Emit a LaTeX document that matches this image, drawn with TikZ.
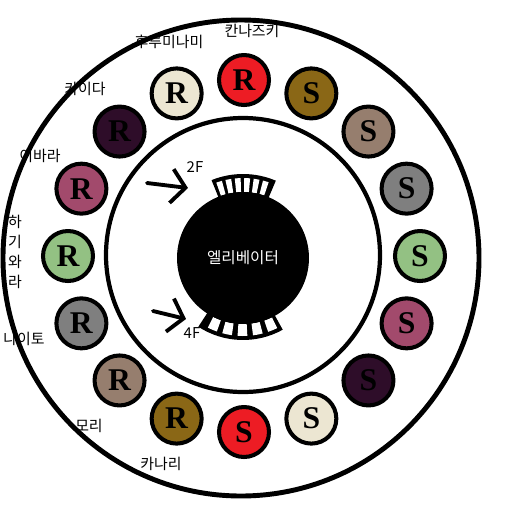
\documentclass[tikz,border=0pt]{standalone}
\usepackage{fontspec}
\setmainfont{Liberation Serif}
\newfontfamily\krfont{Noto Sans CJK KR}
\usetikzlibrary{arrows.meta}
\definecolor{coinRed}{HTML}{ED1C24}
\definecolor{coinCream}{HTML}{ECE6D2}
\definecolor{coinBrown}{HTML}{8A6716}
\definecolor{coinTan}{HTML}{967E6E}
\definecolor{coinGray}{HTML}{7F7F7F}
\definecolor{coinGreen}{HTML}{93C183}
\definecolor{coinRose}{HTML}{A24A6C}
\definecolor{coinPlum}{HTML}{2E0D29}

\begin{document}
\begin{tikzpicture}[x=0.02cm, y=-0.02cm, line join=round,
  ring/.style={draw=black, line width=2.8pt},
  coin/.style={circle, draw=black, line width=2.3pt, minimum size=1cm, inner sep=0pt,
    font=\fontsize{18}{18}\selectfont\bfseries},
  pname/.style={inner sep=0pt, font=\krfont\fontsize{8.5}{11.3}\selectfont},
  floorarrow/.style={line width=2.2pt, line cap=round, -{Straight Barb[length=0.28cm, width=0.68cm]}}]
  \useasboundingbox (0,0) rectangle (512,512);

  \draw[ring] (241,258) circle[radius=238];
  \draw[ring, line width=2.4pt] (243,255) circle[radius=137];

  \foreach \a/\c/\l/\n in {270/coinRed/R/kannazuki, 247.5/coinCream/R/furuminami,
      225/coinPlum/R/kaida, 202.5/coinRose/R/ibara, 180/coinGreen/R/hagiwara,
      157.5/coinGray/R/naito, 135/coinTan/R/mori, 112.5/coinBrown/R/kanari,
      292.5/coinBrown/S/sBrown, 315/coinTan/S/sTan, 337.5/coinGray/S/sGray,
      0/coinGreen/S/sGreen, 22.5/coinRose/S/sRose, 45/coinPlum/S/sPlum,
      67.5/coinCream/S/sCream, 90/coinRed/S/sRed}{%
    \path (244,256) ++(\a:176) node[coin, fill=\c] (\n) {\l};
  }

  \begin{scope}[shift={(243,258)}]
    \fill (248:84) arc[start angle=248, end angle=293, radius=84]
      -- (293:60) arc[start angle=293, end angle=248, radius=60] -- cycle;
    \foreach \i in {0,...,5}{%
      \pgfmathsetmacro\s{250.5+\i*6.8}
      \pgfmathsetmacro\e{\s+4.2}
      \fill[white] (\s:66) arc[start angle=\s, end angle=\e, radius=66]
        -- (\e:80) arc[start angle=\e, end angle=\s, radius=80] -- cycle;
    }
    \fill (61:82) arc[start angle=61, end angle=123, radius=82]
      -- (123:60) arc[start angle=123, end angle=61, radius=60] -- cycle;
    \foreach \i in {0,...,4}{%
      \pgfmathsetmacro\s{64+\i*11.4}
      \pgfmathsetmacro\e{\s+7.2}
      \fill[white] (\s:66) arc[start angle=\s, end angle=\e, radius=66]
        -- (\e:78) arc[start angle=\e, end angle=\s, radius=78] -- cycle;
    }
  \end{scope}

  \node[circle, fill=black, minimum size=2.64cm, inner sep=0pt, text=white,
    font=\krfont\fontsize{8.9}{10}\selectfont] (lift) at (243,258) {엘리베이터};

  \coordinate (f2tail) at (147,183);
  \coordinate (f2tip) at (188,188);
  \coordinate (f4tail) at (153,311);
  \coordinate (f4tip) at (186,319);
  \draw[floorarrow] (f2tail) -- (f2tip);
  \draw[floorarrow] (f4tail) -- (f4tip);
  \node[pname] (f2) at (195,167) {2F};
  \node[pname] (f4) at (192,333) {4F};

  \node[pname] (lblKannazuki) at (252,31) {칸나즈키};
  \node[pname] (lblFuruminami) at (169,42) {후루미나미};
  \node[pname] (lblKaida) at (85,89) {카이다};
  \node[pname] (lblIbara) at (40,156) {이바라};
  \node[pname, align=center] (lblHagiwara) at (15,252) {하\\기\\와\\라};
  \node[pname] (lblNaito) at (24,339) {나이토};
  \node[pname] (lblMori) at (89,426) {모리};
  \node[pname] (lblKanari) at (161,464) {카나리};
\end{tikzpicture}
\end{document}
